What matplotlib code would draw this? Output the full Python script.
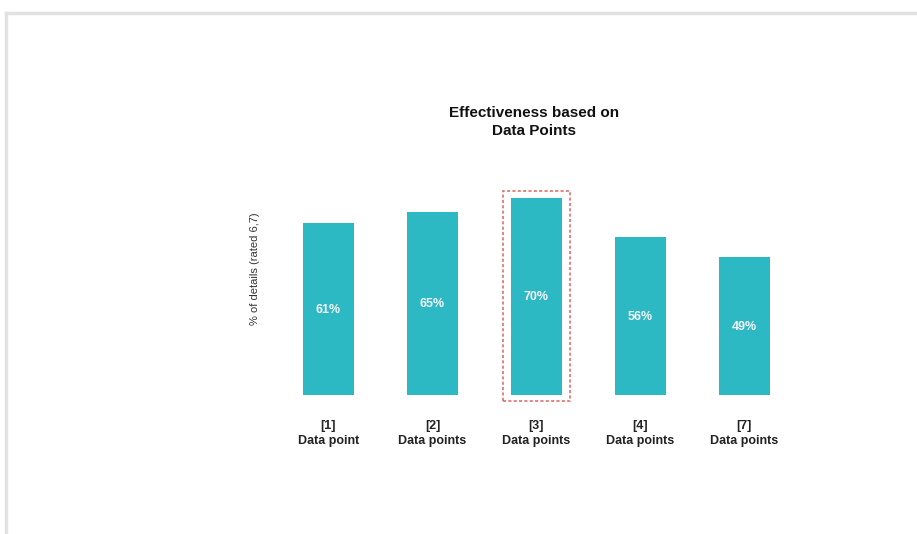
import matplotlib.pyplot as plt
from matplotlib.patches import Rectangle
from matplotlib.lines import Line2D

plt.rcParams['font.family'] = ['Liberation Sans', 'DejaVu Sans']

# data
groups = ['[1]\nData point', '[2]\nData points', '[3]\nData points',
          '[4]\nData points', '[7]\nData points']
values = [61, 65, 70, 56, 49]
highlight = 2  # index of the boxed bar

bar_color = '#2db9c4'

fig = plt.figure(figsize=(9.17, 5.34), dpi=100)
ax = fig.add_axes([0.3015, 0.2603, 0.567, 0.396])

x = range(len(values))
ax.bar(x, values, width=0.49, color=bar_color)
for i, v in zip(x, values):
    ax.text(i, v / 2 - 0.4, "{}%".format(v), ha='center', va='center',
            color='#f4f4f4', fontsize=9, fontweight='bold')

# dashed box around the highlighted bar
hv = values[highlight]
ax.add_patch(Rectangle((highlight - 0.325, -2.1), 0.65, hv + 4.4,
                       fill=False, edgecolor='#e06060', linestyle=(0, (2, 1.5)),
                       linewidth=1.1, clip_on=False))

ax.set_xlim(-0.5, 4.5)
ax.set_ylim(0, 75)
ax.set_xticks(list(x))
ax.set_xticklabels(groups, fontsize=9, fontweight='bold', color='#222222',
                   linespacing=1.35)
ax.tick_params(axis='x', length=0, pad=18)
ax.set_yticks([])
for s in ax.spines.values():
    s.set_visible(False)

fig.text(0.2785, 0.497, '% of details (rated 6,7)', rotation=90,
         ha='center', va='center', fontsize=8, color='#333333')
fig.text(0.582, 0.771, 'Effectiveness based on\nData Points', ha='center',
         va='center', fontsize=11, fontweight='bold', color='#111111',
         linespacing=1.4)

# light frame of the slide
fig.add_artist(Line2D([0.006, 1.0], [0.975, 0.975], color='#e2e2e2', lw=2.5))
fig.add_artist(Line2D([0.0065, 0.0065], [0.0, 0.975], color='#e2e2e2', lw=2.5))

fig.savefig('out.png', dpi=100)
